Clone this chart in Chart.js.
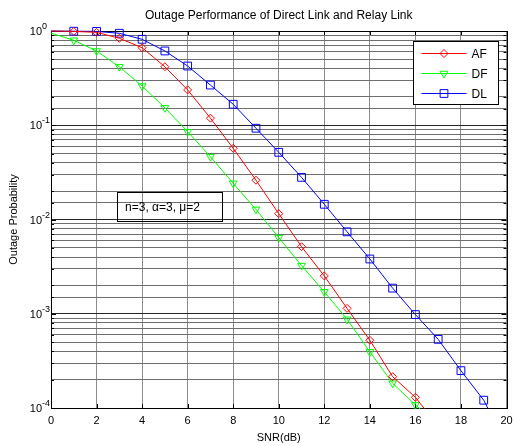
<!DOCTYPE html>
<html>
<head>
<meta charset="UTF-8">
<title>Outage Performance of Direct Link and Relay Link</title>
<script src="https://cdn.jsdelivr.net/npm/chart.js"></script>
<style>
    html, body { margin: 0; padding: 0; background: #fff; }
    canvas { display: block; }
</style>
</head>
<body>
<canvas id="outageChart" width="513" height="446"></canvas>
<script>
// SNR in dB and outage probability of each scheme
const snr = [0, 1, 2, 3, 4, 5, 6, 7, 8, 9, 10, 11, 12, 13, 14, 15, 16, 17, 18, 19, 20];
const afOutage = [1.0, 0.99, 0.968, 0.837, 0.665, 0.418, 0.237, 0.119, 0.0569, 0.0261, 0.01153,
                  0.00515, 0.00252, 0.00114, 0.000523, 0.000215, 0.00013, 0.000064];
const dfOutage = [0.95, 0.797, 0.614, 0.418, 0.261, 0.153, 0.0855, 0.0464, 0.0242, 0.0128, 0.00642,
                  0.00324, 0.00171, 0.000873, 0.000395, 0.000183, 0.000108, 0.000066];
const dlOutage = [1.0, 0.995, 0.99, 0.946, 0.816, 0.614, 0.425, 0.267, 0.167, 0.093, 0.0516,
                  0.028, 0.0145, 0.0074, 0.00381, 0.00187, 0.00098, 0.000535, 0.000249, 0.000121, 0.000041];
const seriesNames = ['AF', 'DF', 'DL'];
const seriesColors = ['#ff0000', '#00ff00', '#0000ff'];
const yExponents = [0, -1, -2, -3, -4];
const chartTitle = 'Outage Performance of Direct Link and Relay Link';
const paramText = 'n=3, \u03b1=3, \u03bc=2';

const FONT = 'Arial, "Liberation Sans", Helvetica, sans-serif';
Chart.defaults.font.family = FONT;
Chart.defaults.color = '#000';

function toPoints(values) {
    return values.map((v, i) => ({ x: snr[i], y: v }));
}

// first sample (SNR = 0) is drawn as line only, no marker
function markerSize(r) {
    return ctx => (ctx.dataIndex === 0 ? 0 : r);
}

function makeSeries(label, values, color, style, radius, rotation) {
    return {
        label: label,
        data: toPoints(values),
        borderColor: color,
        borderWidth: 1,
        backgroundColor: 'rgba(0,0,0,0)',
        pointStyle: style,
        pointRotation: rotation,
        pointRadius: markerSize(radius),
        pointBorderColor: color,
        pointBackgroundColor: 'rgba(0,0,0,0)',
        pointBorderWidth: 1,
        tension: 0,
        clip: { left: 0, right: 0, top: 8, bottom: 1 }
    };
}

const markers = [
    { style: 'rectRot', radius: 4, rotation: 0 },
    { style: 'triangle', radius: 4.5, rotation: 180 },
    { style: 'rect', radius: 5.5, rotation: 0 }
];

// axes box and inward ticks go under the curves, like MATLAB
const axesBox = {
    id: 'axesBox',
    beforeDatasetsDraw(chart) {
        const ctx = chart.ctx;
        const a = chart.chartArea;
        const xs = chart.scales.x;
        const ys = chart.scales.y;
        ctx.save();
        ctx.strokeStyle = '#000';
        ctx.lineWidth = 1;
        ctx.beginPath();
        xs.ticks.forEach(t => {
            const px = Math.round(xs.getPixelForValue(t.value)) + 0.5;
            ctx.moveTo(px, a.bottom); ctx.lineTo(px, a.bottom - 4);
            ctx.moveTo(px, a.top); ctx.lineTo(px, a.top + 4);
        });
        ys.ticks.forEach(t => {
            const py = Math.round(ys.getPixelForValue(t.value)) + 0.5;
            const len = t.major ? 5 : 3;
            ctx.moveTo(a.left, py); ctx.lineTo(a.left + len, py);
            ctx.moveTo(a.right, py); ctx.lineTo(a.right - len, py);
        });
        ctx.stroke();
        ctx.strokeRect(Math.round(a.left) + 0.5, Math.round(a.top) + 0.5,
                       Math.round(a.right - a.left), Math.round(a.bottom - a.top));
        ctx.restore();
    }
};

// title, y labels, text box and legend on top
const axesDecor = {
    id: 'axesDecor',
    afterDraw(chart) {
        const ctx = chart.ctx;
        const a = chart.chartArea;
        const xs = chart.scales.x;
        const ys = chart.scales.y;
        ctx.save();
        ctx.fillStyle = '#000';

        // title centred over the axes
        ctx.font = '12px ' + FONT;
        ctx.textAlign = 'center';
        ctx.textBaseline = 'middle';
        ctx.fillText(chartTitle, (a.left + a.right) / 2, 16);

        // y tick labels 10^k
        yExponents.forEach(e => {
            const py = ys.getPixelForValue(Math.pow(10, e));
            ctx.font = '11px ' + FONT;
            ctx.textAlign = 'right';
            ctx.textBaseline = 'middle';
            ctx.fillText('10', a.left - 9, py + 1);
            ctx.font = '9px ' + FONT;
            ctx.textAlign = 'left';
            ctx.textBaseline = 'alphabetic';
            ctx.fillText(String(e), a.left - 9, py - 2);
        });

        // parameter text box
        const bx0 = xs.getPixelForValue(2.9), bx1 = xs.getPixelForValue(7.5);
        const by0 = ys.getPixelForValue(0.0194), by1 = ys.getPixelForValue(0.0095);
        ctx.strokeStyle = '#000';
        ctx.lineWidth = 1;
        ctx.strokeRect(Math.round(bx0) + 0.5, Math.round(by0) + 0.5,
                       Math.round(bx1 - bx0), Math.round(by1 - by0));
        ctx.font = '12px ' + FONT;
        ctx.textAlign = 'left';
        ctx.textBaseline = 'middle';
        ctx.fillText(paramText, bx0 + 8, (by0 + by1) / 2 + 1);

        // legend
        const lx = 413.5, ly = 41.5, lw = 85, lh = 63;
        ctx.fillStyle = '#fff';
        ctx.fillRect(lx, ly, lw, lh);
        ctx.strokeStyle = '#000';
        ctx.strokeRect(lx, ly, lw, lh);
        seriesNames.forEach((name, i) => {
            const y = ly + 12 + i * 20;
            const m = markers[i];
            ctx.strokeStyle = seriesColors[i];
            ctx.lineWidth = 1;
            ctx.beginPath();
            ctx.moveTo(lx + 8, y);
            ctx.lineTo(lx + 53, y);
            ctx.stroke();
            ctx.fillStyle = 'rgba(0,0,0,0)';
            Chart.helpers.drawPoint(ctx, {
                pointStyle: m.style,
                rotation: m.rotation,
                radius: m.radius,
                borderWidth: 1
            }, lx + 30.5, y);
            ctx.fillStyle = '#000';
            ctx.font = '12px ' + FONT;
            ctx.textAlign = 'left';
            ctx.textBaseline = 'middle';
            ctx.fillText(name, lx + 58, y + 1);
        });
        ctx.restore();
    }
};

new Chart(document.getElementById('outageChart'), {
    type: 'line',
    data: {
        datasets: [
            makeSeries(seriesNames[0], afOutage, seriesColors[0], markers[0].style, markers[0].radius, markers[0].rotation),
            makeSeries(seriesNames[1], dfOutage, seriesColors[1], markers[1].style, markers[1].radius, markers[1].rotation),
            makeSeries(seriesNames[2], dlOutage, seriesColors[2], markers[2].style, markers[2].radius, markers[2].rotation)
        ]
    },
    options: {
        responsive: false,
        animation: false,
        devicePixelRatio: 1,
        layout: { padding: { left: 0, right: 5, top: 31, bottom: 0 } },
        plugins: {
            legend: { display: false },
            tooltip: { enabled: false },
            title: { display: false }
        },
        scales: {
            x: {
                type: 'linear',
                min: 0,
                max: 20,
                ticks: { stepSize: 2, padding: 6, maxRotation: 0, font: { size: 11 }, color: '#000' },
                grid: { color: '#8c8c8c', drawTicks: false },
                border: { display: false },
                title: { display: true, text: 'SNR(dB)', font: { size: 11 }, color: '#000', padding: { top: 0, bottom: 1.4 } },
                afterFit(scale) {
                    scale.height = 38;
                    scale.paddingLeft = 0;
                    scale.paddingRight = 0;
                }
            },
            y: {
                type: 'logarithmic',
                min: 1e-4,
                max: 1,
                ticks: { display: false },
                grid: {
                    drawTicks: false,
                    color: ctx => {
                        const v = ctx.tick ? ctx.tick.value : 1;
                        const e = Math.log10(v);
                        return Math.abs(e - Math.round(e)) < 1e-6 ? '#262626' : '#6e6e6e';
                    }
                },
                border: { display: false },
                title: { display: true, text: 'Outage Probability', font: { size: 11 }, color: '#000', padding: { top: 7.4, bottom: 0 } },
                afterFit(scale) {
                    scale.width = 51;
                    scale.paddingTop = 0;
                    scale.paddingBottom = 0;
                }
            }
        }
    },
    plugins: [axesBox, axesDecor]
});
</script>
</body>
</html>
